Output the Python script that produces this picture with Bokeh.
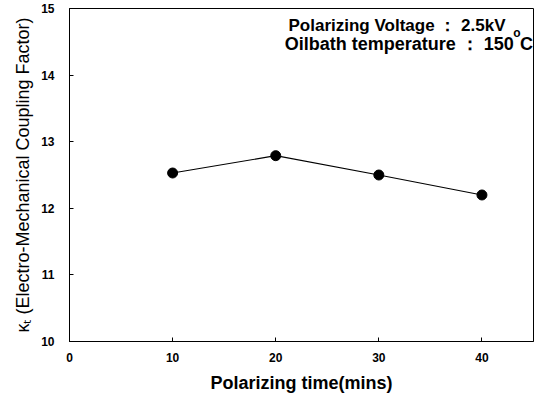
from bokeh.plotting import figure
from bokeh.models import Range1d, FixedTicker, Label
from bokeh.embed import file_html
from bokeh.resources import INLINE

# Data
polarizing_time = [10, 20, 30, 40]
coupling_factor = [12.53, 12.79, 12.50, 12.20]
x_ticks = [0, 10, 20, 30, 40]
y_ticks = [10, 11, 12, 13, 14, 15]
x_label = "Polarizing time(mins)"
y_label = "\u03baₜ (Electro-Mechanical Coupling Factor)"
note1 = "Polarizing Voltage \uff1a 2.5kV"
note2 = "Oilbath temperature \uff1a 150"

FONT = "Liberation Sans"

p = figure(width=538, height=396, output_backend="svg", toolbar_location=None,
           x_range=Range1d(0, 45), y_range=Range1d(10, 15),
           min_border_left=69, min_border_right=5, min_border_top=8, min_border_bottom=55)
p.background_fill_color = "white"
p.border_fill_color = "white"
p.outline_line_color = "black"
p.outline_line_width = 1
p.xgrid.visible = False
p.ygrid.visible = False

for ax in (p.xaxis, p.yaxis):
    ax.axis_line_color = "black"
    ax.major_tick_in = 4
    ax.major_tick_out = 0
    ax.minor_tick_line_color = None
    ax.major_tick_line_color = "black"
    ax.major_label_text_font = FONT
    ax.major_label_text_font_style = "bold"
    ax.major_label_text_font_size = "12px"
    ax.major_label_text_color = "black"
    ax.axis_label_text_font = FONT
    ax.axis_label_text_color = "black"

p.xaxis.ticker = FixedTicker(ticks=x_ticks)
p.yaxis.ticker = FixedTicker(ticks=y_ticks)
p.xaxis.major_label_standoff = 11
p.yaxis.major_label_standoff = 15
p.xaxis.axis_label = x_label
p.xaxis.axis_label_text_font_style = "bold"
p.xaxis.axis_label_text_font_size = "18px"
p.xaxis.axis_label_standoff = 8
p.yaxis.axis_label = y_label
p.yaxis.axis_label_text_font_style = "normal"
p.yaxis.axis_label_text_font_size = "18px"
p.yaxis.axis_label_standoff = 5

p.line(polarizing_time, coupling_factor, line_color="black", line_width=1.2)
p.scatter(polarizing_time, coupling_factor, size=10, fill_color="black", line_color="black")

common = dict(text_font=FONT, text_font_style="bold", text_color="black",
              text_baseline="alphabetic")
p.add_layout(Label(x=21.24, y=14.752, text=note1, text_align="left",
                   text_font_size="17px", **common))
p.add_layout(Label(x=43.09, y=14.467, text=note2, text_align="right",
                   text_font_size="18px", **common))
p.add_layout(Label(x=43.74, y=14.635, text="o", text_align="right",
                   text_font_size="12px", **common))
p.add_layout(Label(x=44.95, y=14.467, text="C", text_align="right",
                   text_font_size="18px", **common))

open("out.html", "w").write(file_html(p, INLINE))
